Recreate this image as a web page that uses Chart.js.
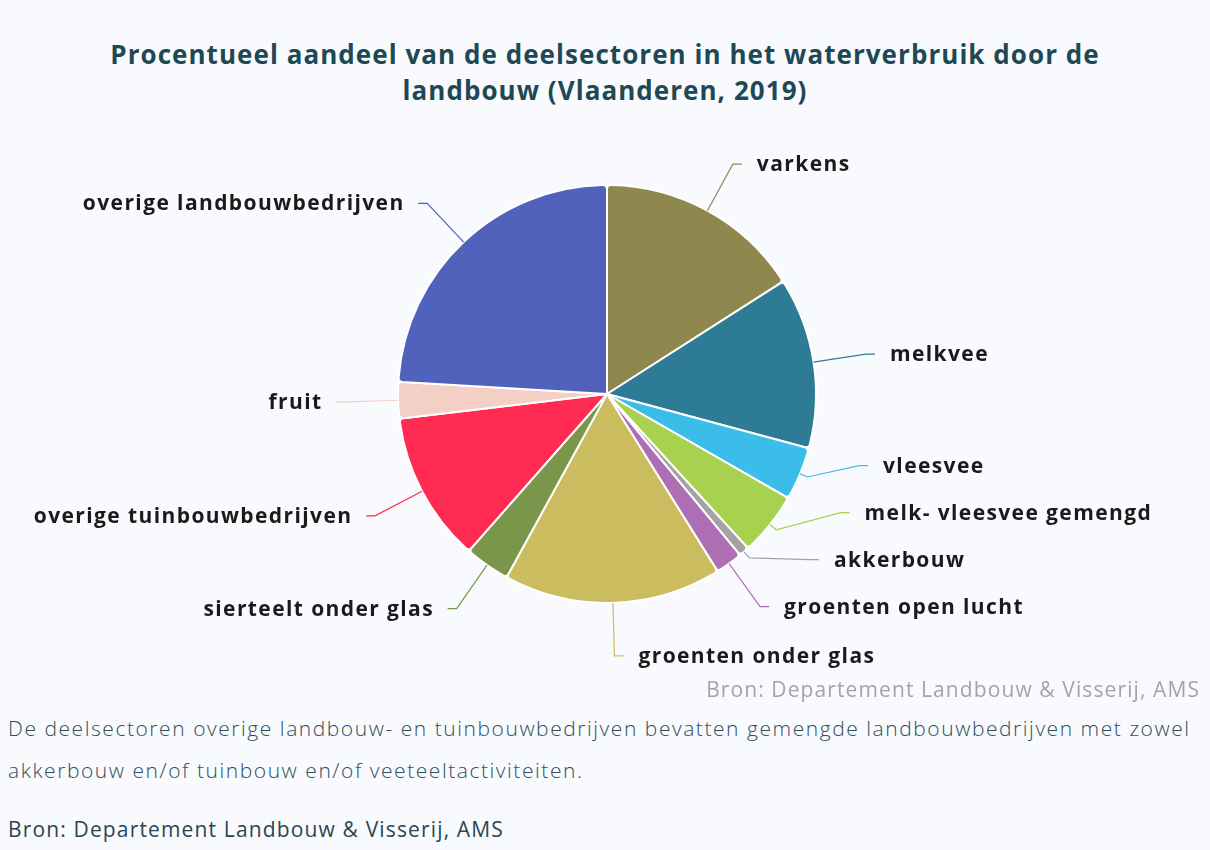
<!DOCTYPE html>
<html lang="nl">
<head>
<meta charset="utf-8">
<title>Waterverbruik landbouw</title>
<script src="https://cdn.jsdelivr.net/npm/chart.js@4.4.1/dist/chart.umd.min.js"></script>
<style>
  html, body { margin: 0; padding: 0; }
  body {
    width: 1210px; height: 850px; overflow: hidden;
    background: #f9fafe; position: relative;
    font-family: "Open Sans", "Noto Sans", sans-serif;
  }
  #title {
    position: absolute; left: 0; top: 36px; width: 1210px;
    text-align: center; color: #1f4855;
    font-size: 26px; font-weight: 700; line-height: 36px;
    letter-spacing: 1.05px;
  }
  #chartBox { position: absolute; left: 0; top: 120px; width: 1210px; height: 560px; }
  #bron1 {
    position: absolute; right: 10px; top: 675px;
    color: #a4a4a4; font-size: 21px; letter-spacing: 1.1px;
  }
  #note {
    position: absolute; left: 8px; top: 707px; width: 1205px;
    color: #2f4f5a; font-size: 21px; line-height: 42px; font-weight: 300;
    letter-spacing: 1.55px;
  }
  #bron2 {
    position: absolute; left: 8px; top: 815px;
    color: #2a4650; font-size: 21px; letter-spacing: 1.15px;
  }
</style>
</head>
<body>
<div id="title">Procentueel aandeel van de deelsectoren in het waterverbruik door de<br>landbouw (Vlaanderen, 2019)</div>
<div id="chartBox"><canvas id="waterChart"></canvas></div>
<div id="bron1">Bron: Departement Landbouw &amp; Visserij, AMS</div>
<div id="note">De deelsectoren overige landbouw- en tuinbouwbedrijven bevatten gemengde landbouwbedrijven met zowel akkerbouw en/of tuinbouw en/of veeteeltactiviteiten.</div>
<div id="bron2">Bron: Departement Landbouw &amp; Visserij, AMS</div>

<script>
// data (percent share)
const sectors = [
    "varkens", "melkvee", "vleesvee", "melk- vleesvee gemengd", "akkerbouw",
    "groenten open lucht", "groenten onder glas", "sierteelt onder glas",
    "overige tuinbouwbedrijven", "fruit", "overige landbouwbedrijven"
];
const shares = [15.9, 13.2, 4.1, 4.9, 0.8, 2.1, 16.8, 3.5, 11.6, 2.8, 24.0];
const sectorColors = [
    "#8f884e", "#2e7b95", "#3bbdea", "#a8d14f", "#a3a3a3",
    "#ad6eb4", "#cbbd5f", "#7a964a", "#ff2b52", "#f4cfc5", "#5162bc"
];

// labels with elbow connectors, outside the pie
const outLabels = {
    id: "outLabels",
    afterDatasetsDraw(chart) {
        const ctx = chart.ctx;
        const arcs = chart.getDatasetMeta(0).data;
        const offset = 53;   // elbow distance beyond the edge
        const minGap = 47;   // vertical room per label
        const items = arcs.map((arc, i) => {
            const mid = (arc.startAngle + arc.endAngle) / 2;
            return {
                i, mid, R: arc.outerRadius + offset,
                cx: arc.x, cy: arc.y, r: arc.outerRadius,
                right: Math.cos(mid) >= 0,
                y: arc.y + Math.sin(mid) * (arc.outerRadius + offset)
            };
        });

        // spread labels per side (push upward from the bottom one)
        [true, false].forEach(side => {
            const list = items.filter(it => it.right === side).sort((a, b) => a.y - b.y);
            for (let k = list.length - 2; k >= 0; k--) {
                list[k].y = Math.min(list[k].y, list[k + 1].y - minGap);
            }
        });

        ctx.save();
        ctx.font = "700 21px 'Open Sans', sans-serif";
        if ("letterSpacing" in ctx) ctx.letterSpacing = "1.4px";
        ctx.textBaseline = "middle";
        items.forEach(it => {
            const dir = it.right ? 1 : -1;
            const dy = it.y - it.cy;
            const dx = Math.sqrt(Math.max(it.R * it.R - dy * dy, 0));
            const ex = it.cx + dir * dx;
            const sx = it.cx + Math.cos(it.mid) * it.r;
            const sy = it.cy + Math.sin(it.mid) * it.r;
            const kx = it.cx + Math.cos(it.mid) * (it.r + 8);
            const ky = it.cy + Math.sin(it.mid) * (it.r + 8);

            ctx.strokeStyle = sectorColors[it.i];
            ctx.lineWidth = 1.2;
            ctx.beginPath();
            ctx.moveTo(sx, sy);
            ctx.lineTo(kx, ky);
            ctx.lineTo(ex, it.y);
            ctx.lineTo(ex + dir * 9, it.y);
            ctx.stroke();

            ctx.fillStyle = "#1a1a1a";
            ctx.textAlign = it.right ? "left" : "right";
            ctx.fillText(sectors[it.i], ex + dir * 24 + (it.right ? 0 : 1.4), it.y + 1);
        });
        ctx.restore();
    }
};

new Chart(document.getElementById("waterChart"), {
    type: "pie",
    data: {
        labels: sectors,
        datasets: [{
            data: shares,
            backgroundColor: sectorColors,
            borderColor: "#ffffff",
            borderWidth: 2,
            borderRadius: 4
        }]
    },
    options: {
        responsive: true,
        maintainAspectRatio: false,
        animation: false,
        layout: { padding: { top: 64, bottom: 76, left: 4, right: 0 } },
        plugins: {
            legend: { display: false },
            tooltip: { enabled: false }
        }
    },
    plugins: [outLabels]
});
</script>
</body>
</html>
